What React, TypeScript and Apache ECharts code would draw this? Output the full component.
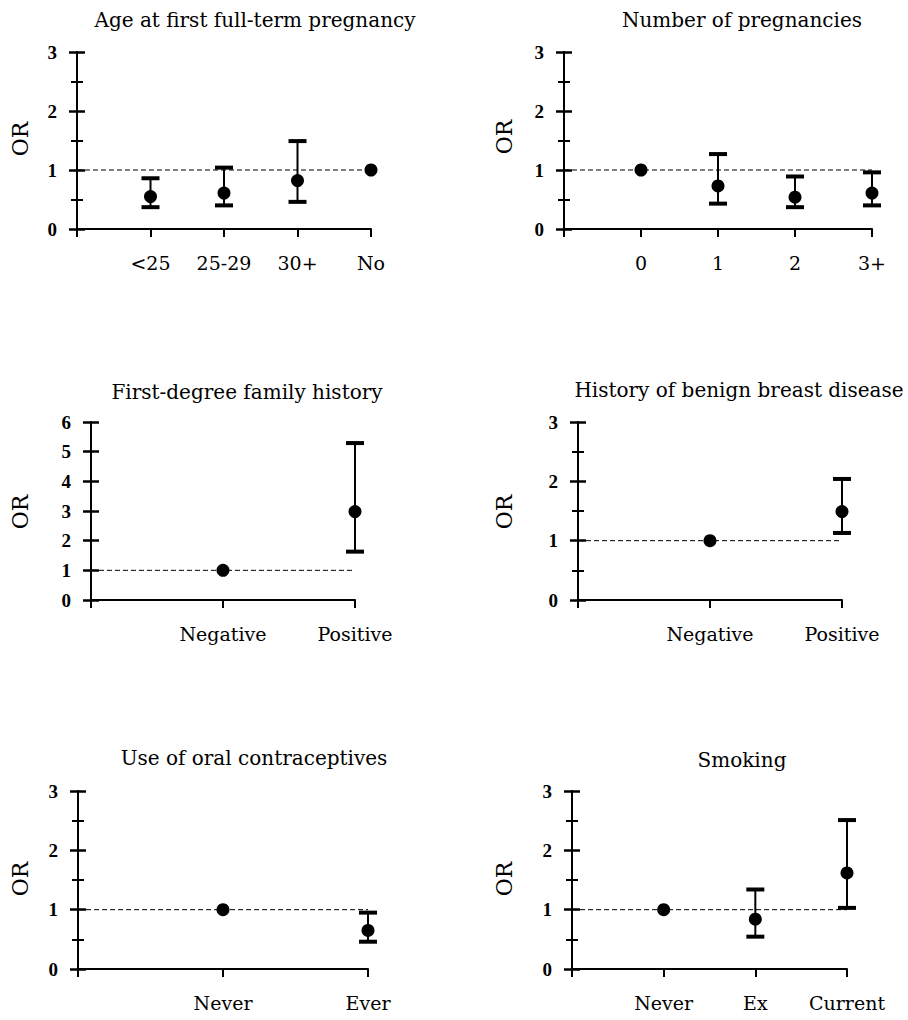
import React, { useEffect, useRef } from "react";
import * as echarts from "echarts";

const FONT = '"DejaVu Serif", serif';
const NUMFONT = '"Liberation Serif", serif';

// ---- data ----
const ageCats = ["<25", "25-29", "30+", "No"];
const ageOR = [0.55, 0.61, 0.82, 1];
const ageLo = [0.37, 0.4, 0.46, null];
const ageHi = [0.86, 1.04, 1.49, null];

const pregCats = ["0", "1", "2", "3+"];
const pregOR = [1, 0.73, 0.54, 0.61];
const pregLo = [null, 0.43, 0.37, 0.4];
const pregHi = [null, 1.27, 0.89, 0.96];

const famCats = ["Negative", "Positive"];
const famOR = [1, 2.98];
const famLo = [null, 1.63];
const famHi = [null, 5.29];

const bbdCats = ["Negative", "Positive"];
const bbdOR = [1, 1.49];
const bbdLo = [null, 1.13];
const bbdHi = [null, 2.04];

const ocCats = ["Never", "Ever"];
const ocOR = [1, 0.65];
const ocLo = [null, 0.46];
const ocHi = [null, 0.95];

const smkCats = ["Never", "Ex", "Current"];
const smkOR = [1, 0.84, 1.62];
const smkLo = [null, 0.545, 1.03];
const smkHi = [null, 1.34, 2.51];

const titles = [
  "Age at first full-term pregnancy",
  "Number of pregnancies",
  "First-degree family history",
  "History of benign breast disease",
  "Use of oral contraceptives",
  "Smoking",
];
const yMaxes = [3, 3, 6, 3, 3, 3];
const refOR = 1;

const panelData = [
  { cats: ageCats, or: ageOR, lo: ageLo, hi: ageHi },
  { cats: pregCats, or: pregOR, lo: pregLo, hi: pregHi },
  { cats: famCats, or: famOR, lo: famLo, hi: famHi },
  { cats: bbdCats, or: bbdOR, lo: bbdLo, hi: bbdHi },
  { cats: ocCats, or: ocOR, lo: ocLo, hi: ocHi },
  { cats: smkCats, or: smkOR, lo: smkLo, hi: smkHi },
];

// ---- layout ----
const layout = [
  { left: 77, top: 52, width: 294, height: 177, tx: 255, ty: 20, ox: 20, oy: 139 },
  { left: 564, top: 52, width: 308, height: 177, tx: 742, ty: 20, ox: 504, oy: 137 },
  { left: 91, top: 422, width: 264, height: 178, tx: 247, ty: 392, ox: 20, oy: 512 },
  { left: 578, top: 422, width: 264, height: 178, tx: 739, ty: 390, ox: 504, oy: 512 },
  { left: 78, top: 791, width: 290, height: 178, tx: 254, ty: 758, ox: 20, oy: 879 },
  { left: 572, top: 791, width: 275, height: 178, tx: 742, ty: 760, ox: 504, oy: 879 },
];

const black = "#000";

function buildOption() {
  const grid: any[] = [];
  const xAxis: any[] = [];
  const yAxis: any[] = [];
  const series: any[] = [];
  const graphic: any[] = [];

  panelData.forEach((p, i) => {
    const L = layout[i];
    const n = p.cats.length;
    const ymax = yMaxes[i];
    const minor = ymax <= 3;
    grid.push({ left: L.left, top: L.top, width: L.width, height: L.height });
    xAxis.push({
      gridIndex: i,
      type: "value",
      min: 0,
      max: n,
      interval: 1,
      axisLine: { show: true, onZero: false, lineStyle: { color: black, width: 2 } },
      axisTick: { show: true, length: 8, lineStyle: { color: black, width: 2 } },
      axisLabel: {
        formatter: (v: number) => (v === 0 ? "" : p.cats[v - 1] ?? ""),
        margin: 24,
        color: black,
        fontFamily: FONT,
        fontSize: 19,
        showMaxLabel: true,
        showMinLabel: true,
      },
      splitLine: { show: false },
    });
    // main y axis: labels + outer half of the ticks
    yAxis.push({
      gridIndex: i,
      type: "value",
      min: 0,
      max: ymax,
      interval: 1,
      position: "left",
      axisLine: { show: true, onZero: false, lineStyle: { color: black, width: 2 } },
      axisTick: { show: true, length: 8, lineStyle: { color: black, width: 2.5 } },
      minorTick: { show: minor, splitNumber: 2, length: 6, lineStyle: { color: black, width: 2 } },
      axisLabel: { margin: 20, color: black, fontFamily: NUMFONT, fontSize: 19, fontWeight: "bold" },
      splitLine: { show: false },
      minorSplitLine: { show: false },
    });
    // overlay y axis: inner half of the ticks (ticks cross the axis line)
    yAxis.push({
      gridIndex: i,
      type: "value",
      min: 0,
      max: ymax,
      interval: 1,
      position: "left",
      offset: 0,
      axisLine: { show: true, onZero: false, lineStyle: { color: black, width: 2 } },
      axisTick: { show: true, inside: true, length: 8, lineStyle: { color: black, width: 2.5 } },
      minorTick: { show: minor, splitNumber: 2, length: 6, lineStyle: { color: black, width: 2 } },
      axisLabel: { show: false },
      splitLine: { show: false },
      minorSplitLine: { show: false },
    });

    series.push({
      type: "line",
      xAxisIndex: i,
      yAxisIndex: 2 * i,
      data: [
        [0, refOR],
        [n, refOR],
      ],
      symbol: "none",
      silent: true,
      lineStyle: { color: black, width: 1, type: [5, 3] },
      z: 1,
    });

    const ebData: any[] = [];
    p.cats.forEach((_, k) => {
      if (p.lo[k] != null && p.hi[k] != null) ebData.push([k + 1, p.lo[k], p.hi[k]]);
    });
    series.push({
      type: "custom",
      xAxisIndex: i,
      yAxisIndex: 2 * i,
      data: ebData,
      silent: true,
      z: 2,
      renderItem: (params: any, api: any) => {
        const x = api.value(0);
        const top = api.coord([x, api.value(2)]);
        const bot = api.coord([x, api.value(1)]);
        const hw = 9;
        const st = { stroke: black, lineWidth: 2 };
        const cap = { stroke: black, lineWidth: 4 };
        return {
          type: "group",
          children: [
            { type: "line", shape: { x1: top[0], y1: top[1], x2: bot[0], y2: bot[1] }, style: st },
            { type: "line", shape: { x1: top[0] - hw, y1: top[1], x2: top[0] + hw, y2: top[1] }, style: cap },
            { type: "line", shape: { x1: bot[0] - hw, y1: bot[1], x2: bot[0] + hw, y2: bot[1] }, style: cap },
          ],
        };
      },
    });

    series.push({
      type: "scatter",
      xAxisIndex: i,
      yAxisIndex: 2 * i,
      data: p.or.map((v, k) => [k + 1, v]),
      symbol: "circle",
      symbolSize: 13,
      itemStyle: { color: black, opacity: 1 },
      silent: true,
      z: 3,
    });

    graphic.push({
      type: "text",
      x: L.tx,
      y: L.ty,
      style: { text: titles[i], font: `20px ${FONT}`, fill: black, align: "center", verticalAlign: "middle" },
    });
    graphic.push({
      type: "text",
      x: L.ox,
      y: L.oy,
      rotation: Math.PI / 2,
      style: { text: "OR", font: `22px ${FONT}`, fill: black, align: "center", verticalAlign: "middle" },
    });
  });

  return {
    animation: false,
    backgroundColor: "#fff",
    grid,
    xAxis,
    yAxis,
    series,
    graphic,
  };
}

export default function App() {
  const ref = useRef<HTMLDivElement>(null);
  useEffect(() => {
    if (!ref.current) return;
    const chart = echarts.init(ref.current, undefined, { renderer: "svg" });
    chart.setOption(buildOption() as any);
    return () => chart.dispose();
  }, []);
  return (
    <div
      ref={ref}
      style={{ position: "absolute", left: 0, top: 0, width: 908, height: 1020, background: "#fff" }}
    />
  );
}
